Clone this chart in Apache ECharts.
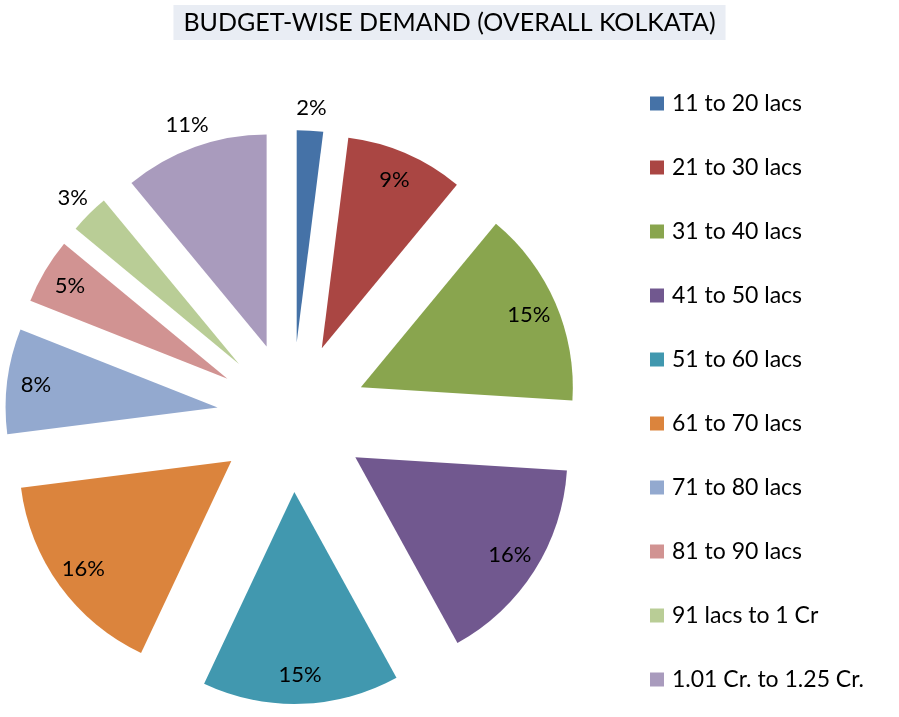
<!DOCTYPE html>
<html>
<head>
<meta charset="utf-8">
<script src="https://cdn.jsdelivr.net/npm/echarts@6/dist/echarts.min.js"></script>
<style>html,body{margin:0;padding:0;background:#fff;}#chart{width:899px;height:717px;}</style>
</head>
<body>
<div id="chart"></div>
<script>
const categories = ['11 to 20 lacs','21 to 30 lacs','31 to 40 lacs','41 to 50 lacs','51 to 60 lacs','61 to 70 lacs','71 to 80 lacs','81 to 90 lacs','91 lacs to 1 Cr','1.01 Cr. to 1.25 Cr.'];
const shares = [2, 9, 15, 16, 15, 16, 8, 5, 3, 11];
const outsideLabel = [true, false, false, false, false, false, false, false, true, true];
const colors = ['#4572A7','#AA4643','#89A54E','#71588F','#4198AF','#DB843D','#93A9CF','#D19392','#B9CD96','#A99BBD'];

const FONT = 'Lato';
const center = [292, 417];
const R = 212;
const OFFSET = 75;

const mainData = categories.map((c, i) => ({ name: c, value: shares[i], selected: true, itemStyle: { color: colors[i] } }));
function labelData(showOutside) {
  return categories.map((c, i) => ({
    name: c, value: shares[i], selected: true,
    label: { show: outsideLabel[i] === showOutside }
  }));
}
const labelCommon = {
  type: 'pie', center: center, startAngle: 90, clockwise: true,
  selectedMode: 'multiple', selectedOffset: OFFSET, silent: true,
  avoidLabelOverlap: false, animation: false,
  itemStyle: { color: 'rgba(0,0,0,0)' },
  labelLine: { show: false },
  emphasis: { disabled: true }
};

const chart = echarts.init(document.getElementById('chart'), null, { renderer: 'canvas' });
chart.setOption({
  animation: false,
  backgroundColor: '#fff',
  title: {
    text: 'BUDGET-WISE DEMAND (OVERALL KOLKATA)',
    left: 'center', top: 5,
    backgroundColor: '#E9EDF4',
    padding: [5, 10, 5, 10],
    textStyle: { fontFamily: FONT, fontSize: 25, fontWeight: 'normal', color: '#000', lineHeight: 25 }
  },
  legend: {
    orient: 'vertical', left: 650, top: 92, padding: 0,
    itemWidth: 14, itemHeight: 14, itemGap: 41,
    icon: 'rect',
    textStyle: { fontFamily: FONT, fontSize: 23, lineHeight: 23, color: '#000', padding: [0, 0, 0, 3] },
    selectedMode: false,
    data: categories
  },
  series: [
    {
      type: 'pie', center: center, radius: [0, R], startAngle: 90, clockwise: true,
      selectedMode: 'multiple', selectedOffset: OFFSET, silent: true,
      avoidLabelOverlap: false,
      label: { show: false }, labelLine: { show: false },
      emphasis: { disabled: true },
      data: mainData
    },
    Object.assign({}, labelCommon, {
      radius: [0, 2 * 180],
      label: { show: true, position: 'inside', formatter: '{c}%', fontFamily: FONT, fontSize: 22, color: '#000' },
      data: labelData(false)
    }),
    Object.assign({}, labelCommon, {
      radius: [0, 2 * 232],
      label: { show: true, position: 'inside', formatter: '{c}%', fontFamily: FONT, fontSize: 22, color: '#000' },
      data: labelData(true)
    })
  ]
});
</script>
</body>
</html>
